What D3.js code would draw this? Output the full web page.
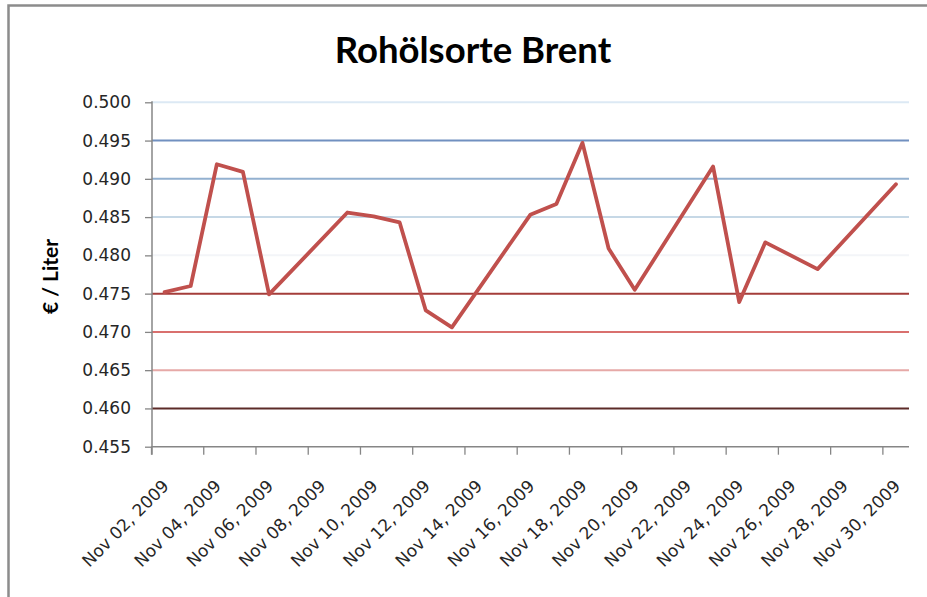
<!DOCTYPE html>
<html>
<head>
<meta charset="utf-8">
<script src="https://cdn.jsdelivr.net/npm/d3@7"></script>
<style>
  html, body { margin: 0; padding: 0; background: #fff; }
  svg { display: block; }
</style>
</head>
<body>
<svg id="chart" width="927" height="597"></svg>
<script>
// Brent price, EUR per litre, trading days of Nov 2009
const DATES = [
  "2009-11-02", "2009-11-03", "2009-11-04", "2009-11-05", "2009-11-06",
  "2009-11-09", "2009-11-10", "2009-11-11", "2009-11-12", "2009-11-13",
  "2009-11-16", "2009-11-17", "2009-11-18", "2009-11-19", "2009-11-20",
  "2009-11-23", "2009-11-24", "2009-11-25", "2009-11-27", "2009-11-30"
];
const PRICES = [
  0.4752, 0.4760, 0.4919, 0.4909, 0.4749,
  0.4856, 0.4851, 0.4843, 0.4728, 0.4706,
  0.4853, 0.4867, 0.4947, 0.4809, 0.4755,
  0.4916, 0.4739, 0.4817, 0.4782, 0.4893
];
const Y_TICKS = [0.455, 0.460, 0.465, 0.470, 0.475, 0.480, 0.485, 0.490, 0.495, 0.500];
const GRID_COLORS = {
  "0.460": "#5c2b28", "0.465": "#e6a9a7", "0.470": "#d9706e", "0.475": "#a43d3a",
  "0.480": "#f3f5f8", "0.485": "#c6d8e6", "0.490": "#93b1d0", "0.495": "#7190c0",
  "0.500": "#dce9f4"
};
const TITLE = "Rohölsorte Brent";
const Y_TITLE = "€ / Liter";

const parse = d3.utcParse("%Y-%m-%d");
const fmtTick = d3.utcFormat("%b %d, %Y");
const data = DATES.map((d, i) => ({ date: parse(d), value: PRICES[i] }));

const svg = d3.select("#chart");
const plot = { left: 152, right: 909, top: 102.3, bottom: 446.7 };

// frame (top and left edge only, like the cropped screenshot)
svg.append("path")
  .attr("d", "M8.5,597 V5.5 H927")
  .attr("fill", "none")
  .attr("stroke", "#8c8c8c")
  .attr("stroke-width", 2.5);

svg.append("text")
  .attr("x", 473)
  .attr("y", 63)
  .attr("text-anchor", "middle")
  .attr("font-family", "Lato, 'Open Sans', sans-serif")
  .attr("font-weight", "bold")
  .attr("font-size", "36.5px")
  .attr("fill", "#000")
  .text(TITLE);

const x = d3.scaleUtc()
  .domain([parse("2009-11-02"), parse("2009-12-01")])
  .range([plot.left - 0.5, plot.right]);

const y = d3.scaleLinear()
  .domain([0.455, 0.500])
  .range([plot.bottom, plot.top]);

const mid = d => new Date(d.getTime() + 12 * 3600 * 1000);

// gridlines
svg.append("g")
  .selectAll("line")
  .data(Y_TICKS.filter(v => GRID_COLORS[v.toFixed(3)]))
  .join("line")
  .attr("x1", plot.left)
  .attr("x2", plot.right)
  .attr("y1", d => y(d))
  .attr("y2", d => y(d))
  .attr("stroke", d => GRID_COLORS[d.toFixed(3)])
  .attr("stroke-width", 2);

// y axis
const yAxis = svg.append("g")
  .attr("transform", `translate(${plot.left},0)`)
  .call(d3.axisLeft(y).tickValues(Y_TICKS).tickFormat(d3.format(".3f")).tickSize(7).tickPadding(14));
yAxis.select(".domain").attr("stroke", "#868686").attr("stroke-width", 1.5).attr("d", `M0,${plot.top - 1}V${plot.bottom + 8}`);
yAxis.selectAll(".tick line").attr("stroke", "#868686").attr("stroke-width", 1.3);
yAxis.selectAll(".tick text")
  .attr("font-family", "'DejaVu Sans', sans-serif")
  .attr("font-size", "17px")
  .attr("fill", "#262626");

svg.append("text")
  .attr("transform", `translate(58,${(plot.top + plot.bottom) / 2 + 2}) rotate(-90)`)
  .attr("text-anchor", "middle")
  .attr("font-family", "Lato, 'Open Sans', sans-serif")
  .attr("font-weight", "bold")
  .attr("font-size", "21px")
  .attr("fill", "#000")
  .text(Y_TITLE);

// x axis: ticks at every other day boundary, labels centred on the day
const tickDays = d3.utcDay.range(parse("2009-11-02"), parse("2009-12-01"), 2);
const xAxisG = svg.append("g").attr("transform", `translate(0,${plot.bottom})`);
xAxisG.append("line")
  .attr("x1", plot.left - 0.5).attr("x2", plot.right)
  .attr("stroke", "#868686").attr("stroke-width", 1.5);
xAxisG.selectAll(".xt")
  .data(tickDays)
  .join("line")
  .attr("class", "xt")
  .attr("x1", d => x(d)).attr("x2", d => x(d))
  .attr("y1", 0).attr("y2", 8)
  .attr("stroke", "#868686").attr("stroke-width", 1.3);
xAxisG.selectAll(".xl")
  .data(tickDays)
  .join("text")
  .attr("class", "xl")
  .attr("transform", d => `translate(${x(mid(d)) - 3},${32}) rotate(-45)`)
  .attr("text-anchor", "end")
  .attr("dy", "0.7em")
  .attr("font-family", "'DejaVu Sans', sans-serif")
  .attr("font-size", "17px")
  .attr("fill", "#262626")
  .text(d => fmtTick(d));

// price line
const line = d3.line()
  .x(d => x(mid(d.date)))
  .y(d => y(d.value));

svg.append("path")
  .datum(data)
  .attr("d", line)
  .attr("fill", "none")
  .attr("stroke", "#c0504d")
  .attr("stroke-width", 3.8)
  .attr("stroke-linejoin", "round")
  .attr("stroke-linecap", "round");
</script>
</body>
</html>
